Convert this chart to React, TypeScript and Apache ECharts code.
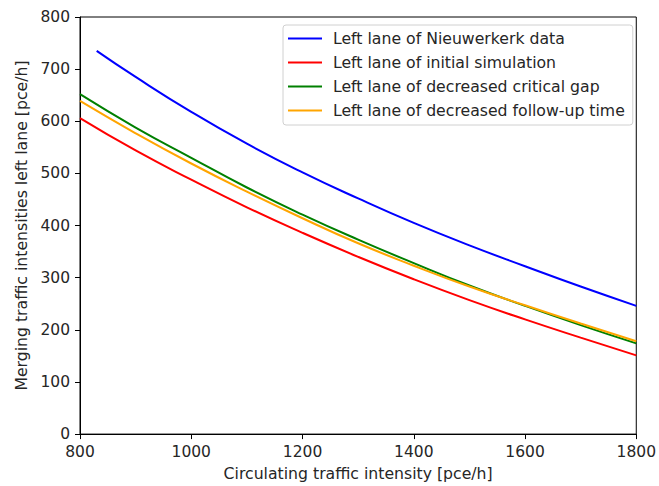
import React, { useEffect, useRef } from "react";
import * as echarts from "echarts";

const xNieuwerkerk = [830, 900, 1000, 1100, 1200, 1300, 1400, 1500, 1600, 1700, 1800];
const blueValues = [735, 685, 618, 557, 502, 452, 405, 362, 322, 283, 246];

const xSim = [800, 900, 1000, 1100, 1200, 1300, 1400, 1500, 1600, 1700, 1800];
const redValues = [606, 544, 488, 435, 386, 340, 297, 257, 220, 185, 151];
const greenValues = [652, 588, 530, 473, 421, 373, 328, 285, 246, 209, 174];
const orangeValues = [639, 577, 519, 465, 414, 366, 323, 283, 247, 212, 178];

const seriesNames = [
  "Left lane of Nieuwerkerk data",
  "Left lane of initial simulation",
  "Left lane of decreased critical gap",
  "Left lane of decreased follow-up time",
];
const seriesColors = ["#0000ff", "#ff0000", "#008000", "#ffa500"];

const FONT = "DejaVu Sans";
const TXT = "#262626";

export default function App() {
  const ref = useRef<HTMLDivElement>(null);
  useEffect(() => {
    document.body.style.margin = "0";
    if (!ref.current) return;
    const chart = echarts.init(ref.current, undefined, { renderer: "svg" });
    const pairs = (xs: number[], ys: number[]) => xs.map((x, i) => [x, ys[i]]);
    const datasets = [
      pairs(xNieuwerkerk, blueValues),
      pairs(xSim, redValues),
      pairs(xSim, greenValues),
      pairs(xSim, orangeValues),
    ];
    chart.setOption({
      animation: false,
      backgroundColor: "#fff",
      textStyle: { fontFamily: FONT },
      grid: {
        left: 80,
        right: 19,
        top: 17,
        bottom: 49,
        show: true,
        borderColor: "#000",
        borderWidth: 1,
        backgroundColor: "transparent",
      },
      legend: {
        orient: "vertical",
        left: 283,
        top: 25,
        padding: [5, 8, 6, 5],
        itemGap: 7,
        itemWidth: 34,
        itemHeight: 2,
        icon: "rect",
        borderColor: "#d0d0d0",
        borderWidth: 1,
        borderRadius: 3,
        backgroundColor: "#fff",
        textStyle: {
          fontFamily: FONT,
          fontSize: 15.7,
          color: TXT,
          lineHeight: 17,
          padding: [0, 0, 0, 6],
        },
        data: seriesNames.map((n, i) => ({ name: n, itemStyle: { color: seriesColors[i] } })),
      },
      xAxis: {
        type: "value",
        min: 800,
        max: 1800,
        interval: 200,
        name: "Circulating traffic intensity [pce/h]",
        nameLocation: "middle",
        nameGap: 30,
        nameTextStyle: { fontFamily: FONT, fontSize: 15.7, color: TXT },
        axisLine: { show: true, lineStyle: { color: "#000", width: 1 } },
        axisTick: { show: true, length: 5, lineStyle: { color: "#000" } },
        axisLabel: {
          fontFamily: FONT,
          fontSize: 15.5,
          color: TXT,
          margin: 10,
          formatter: (v: number) => String(v),
        },
        splitLine: { show: false },
      },
      yAxis: {
        type: "value",
        min: 0,
        max: 800,
        interval: 100,
        name: "Merging traffic intensities left lane [pce/h]",
        nameLocation: "middle",
        nameGap: 51,
        nameTextStyle: { fontFamily: FONT, fontSize: 15.7, color: TXT },
        axisLine: { show: true, lineStyle: { color: "#000", width: 1 } },
        axisTick: { show: true, length: 5, lineStyle: { color: "#000" } },
        axisLabel: {
          fontFamily: FONT,
          fontSize: 15.5,
          color: TXT,
          margin: 10,
          formatter: (v: number) => String(v),
        },
        splitLine: { show: false },
      },
      series: datasets.map((d, i) => ({
        name: seriesNames[i],
        type: "line",
        data: d,
        smooth: true,
        showSymbol: false,
        symbol: "none",
        lineStyle: { color: seriesColors[i], width: 2 },
        itemStyle: { color: seriesColors[i] },
        z: 2 + i,
      })),
    });
    return () => chart.dispose();
  }, []);
  return <div ref={ref} style={{ width: 659, height: 486 }} />;
}
